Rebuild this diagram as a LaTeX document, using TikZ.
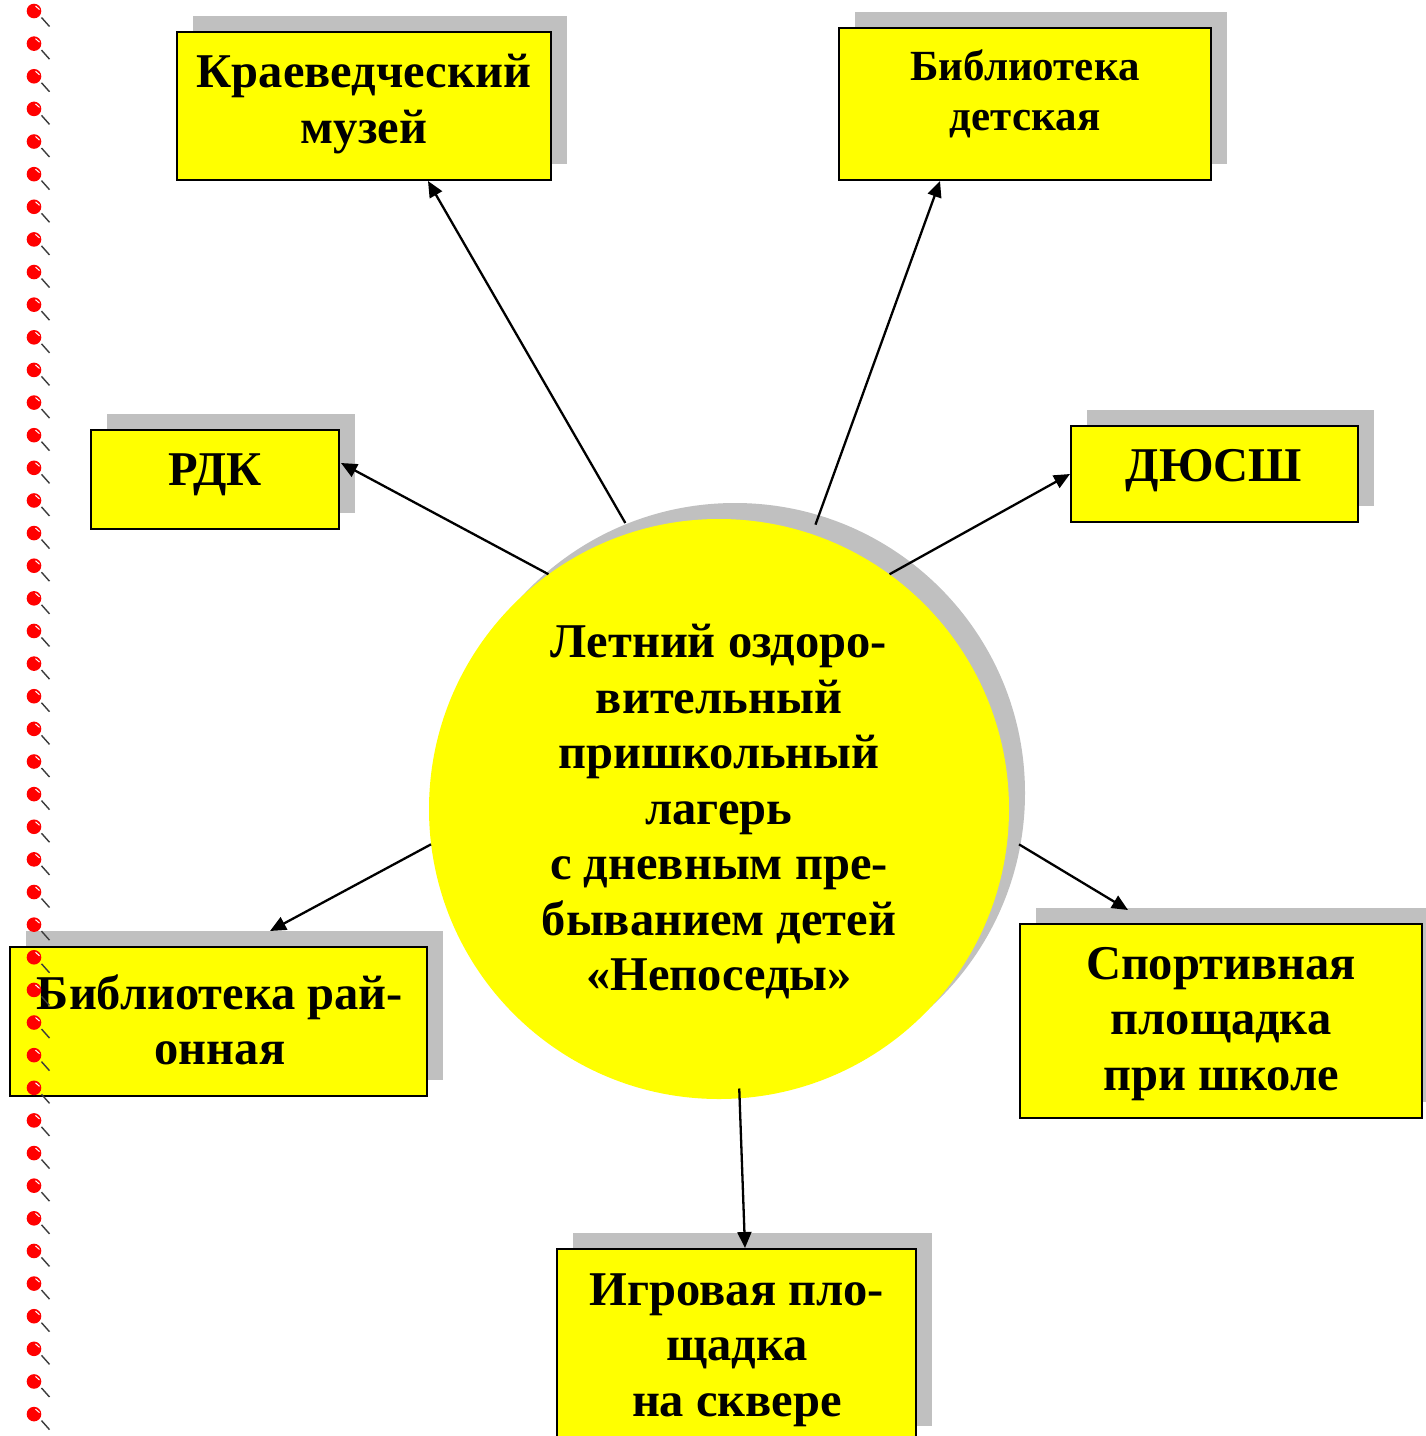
\documentclass[tikz,border=0pt]{standalone}
\usepackage{fontspec}
\setmainfont{Liberation Serif}
\usetikzlibrary{arrows.meta,shadows,calc}
\definecolor{shadowgray}{RGB}{192,192,192}
\definecolor{boxyellow}{RGB}{255,255,0}
\definecolor{pinred}{RGB}{255,0,0}
\definecolor{needle}{RGB}{60,60,60}
\tikzset{
  box/.style={draw=black, line width=2pt, fill=boxyellow, rectangle, inner sep=0pt,
    copy shadow={shadow xshift=16pt, shadow yshift=16pt, fill=shadowgray, draw=none}},
  hub/.style={circle, fill=boxyellow, draw=none, inner sep=0pt, minimum size=580pt,
    copy shadow={shadow xshift=16pt, shadow yshift=16pt, fill=shadowgray, draw=none}},
  boxtext/.style={font=\fontsize{48.5}{55.5}\selectfont\bfseries, align=center, inner sep=0pt},
  smalltext/.style={font=\fontsize{43}{50}\selectfont\bfseries, align=center, inner sep=0pt},
  conn/.style={line width=2.3pt, -{Triangle[length=16pt,width=14pt]}},
  pinhead/.style={fill=pinred, draw=none},
  pinneedle/.style={draw=needle, line width=1.4pt},
  pinshine/.style={draw=white, line width=1pt},
}
\begin{document}
\begin{tikzpicture}[x=1pt,y=-1pt]
\useasboundingbox[fill=white] (0,0) rectangle (1426,1436);

% hub
\node[hub] (c) at (719,809) {};
\node[boxtext] (c-t) at (719,812) {Летний оздоро-\\вительный\\пришкольный\\лагерь\\с дневным пре-\\быванием детей\\«Непоседы»};

% boxes
\node[box, minimum width=374pt, minimum height=148pt] (km) at (364,106) {};
\node[boxtext] (km-t) at (364,104) {Краеведческий\\музей};

\node[box, minimum width=372pt, minimum height=152pt] (bd) at (1025,104) {};
\node[smalltext] (bd-t) at (1025,94) {Библиотека\\детская};

\node[box, minimum width=248pt, minimum height=99pt] (rdk) at (215,479.5) {};
\node[boxtext] (rdk-t) at (215,475) {РДК};

\node[box, minimum width=287pt, minimum height=96pt] (dy) at (1214.5,474) {};
\node[boxtext] (dy-t) at (1214,471) {ДЮСШ};

\node[box, minimum width=417pt, minimum height=149pt] (br) at (218.5,1021.5) {};
\node[boxtext] (br-t) at (220,1020) {Библиотека рай-\\онная};

\node[box, minimum width=402pt, minimum height=194pt] (sp) at (1221,1021) {};
\node[boxtext] (sp-t) at (1221,1024) {Спортивная\\площадка\\при школе};

\node[box, minimum width=359pt, minimum height=193pt] (ig) at (736.5,1345.5) {};
\node[boxtext] (ig-t) at (737,1350) {Игровая пло-\\щадка\\на сквере};

% connectors
\draw[conn] ($(c.108.6)+(-4,-10)$) -- ($(km.south)+(64,0)$);
\draw[conn] ($(c.71.5)+(2,-10)$) -- ($(bd.south)+(-85,0)$);
\draw[conn] (c.126.2) -- ($(rdk.east)+(1,-16.5)$);
\draw[conn] (c.54.7) -- (dy.west);
\draw[conn] (c.187.2) -- ($(br.north)+(51.5,-15)$);
\draw[conn] ($(c.353)+(12,0)$) -- ($(sp.north)+(-93,-13)$);
\draw[conn] ($(c.274)+(0,-10)$) -- ($(ig.north)+(8.5,0)$);

% pins along the left edge
\foreach \i in {0,...,43}{
  \pgfmathsetmacro{\py}{11+\i*32.63}
  \draw[pinneedle] (41.5,\py+6.5) -- (49.5,\py+15.5);
  \fill[pinhead] (34,\py) circle[radius=7.3];
  \draw[pinshine] (35.5,\py-5) -- (39.5,\py-1.5);
}
\end{tikzpicture}
\end{document}
